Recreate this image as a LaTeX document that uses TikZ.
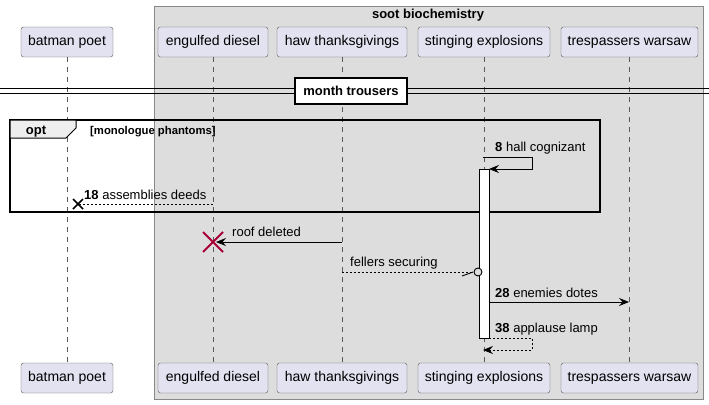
\documentclass[tikz,border=0pt]{standalone}
\usepackage{fontspec}
\setmainfont{Liberation Sans}
\usetikzlibrary{arrows.meta,calc}
\definecolor{partfill}{HTML}{E2E2F0}
\definecolor{partline}{HTML}{5A5A5A}
\definecolor{boxfill}{HTML}{DDDDDD}
\definecolor{boxline}{HTML}{888888}
\definecolor{tabfill}{HTML}{EEEEEE}
\definecolor{crim}{HTML}{A80036}
\begin{document}
\begin{tikzpicture}[x=1pt,y=-1pt,
  part/.style={draw=partline, fill=partfill, rounded corners=2.5pt, minimum height=30pt, inner sep=0pt, font=\fontsize{14}{16}\selectfont},
  lifeline/.style={draw=partline, dash pattern=on 5pt off 5pt, line width=0.8pt},
  msg/.style={draw=black, line width=0.9pt},
  dmsg/.style={msg, dash pattern=on 2pt off 2pt},
  tip/.style={-{Stealth[length=10pt,width=8pt,inset=3.5pt]}},
  lbl/.style={anchor=base west, inner sep=0pt, font=\fontsize{13}{15}\selectfont},
  bold/.style={font=\fontsize{13}{15}\selectfont\bfseries},
]
\useasboundingbox (0,0) rectangle (709,404);
% group box
\draw[draw=boxline, fill=boxfill] (154,6) rectangle (703,399);
\node[bold, inner sep=0pt] (grp) at (428,15) {soot biochemistry};
% participants
\foreach \n/\x/\w/\t in {pA/67/92/batman poet, pB/213/110/engulfed diesel, pC/342/130/haw thanksgivings, pD/484/132/stinging explosions, pE/629.5/137/trespassers warsaw}{
  \node[part, minimum width=\w pt] (\n) at (\x,42) {\t};
  \node[part, minimum width=\w pt] (\n b) at (\x,378) {\t};
  \draw[lifeline] (\n.south) -- (\n b.north);
}
% divider
\draw[line width=0.9pt] (0,88) -- (709,88);
\draw[line width=0.9pt] (0,93) -- (709,93);
\node[bold, draw=black, fill=white, line width=1.8pt, minimum width=112pt, minimum height=26pt, inner sep=0pt] (div) at (351,91) {month trousers};
% opt frame
\draw[line width=1.5pt] (10,120) rectangle (600,212);
\draw[fill=tabfill, line width=1pt] (10,120) -- (76,120) -- (76,128) -- (66,138) -- (10,138) -- cycle;
\node[bold, inner sep=0pt, anchor=base] (optl) at (36,134.5) {opt};
\node[anchor=base west, inner sep=0pt, font=\fontsize{11.3}{13}\selectfont\bfseries] (cond) at (90,134) {[monologue phantoms]};
% activation
\draw[fill=white, line width=0.9pt] (479,169) rectangle (489,338);
% coordinates on lifelines
\coordinate (d8a) at (483,157);
\coordinate (d8b) at (489,169);
\coordinate (b18) at (213,204);
\coordinate (a18) at (78,204);
\coordinate (c1) at (342,242);
\coordinate (b1) at (213,242);
\coordinate (c2) at (342,272);
\coordinate (d2) at (478,272);
\coordinate (d28) at (489,302);
\coordinate (e28) at (629,302);
\coordinate (d38a) at (489,338);
\coordinate (d38b) at (483,350);
% 8
\draw[msg, tip] (d8a) -- (532,157) -- (532,169) -- (d8b);
\node[lbl] (l8) at (495,151) {\textbf{8} hall cognizant};
% 18
\draw[dmsg] (b18) -- (a18);
\draw[line width=1.5pt] ($(a18)+(-5,-5)$) -- ($(a18)+(5,5)$) ($(a18)+(-5,5)$) -- ($(a18)+(5,-5)$);
\node[lbl] (l18) at (84,199) {\textbf{18} assemblies deeds};
% roof deleted
\draw[msg, tip] (c1) -- ($(b1)+(3,0)$);
\draw[crim, line width=2pt] ($(b1)+(-10,-10)$) -- ($(b1)+(10,10)$) ($(b1)+(-10,10)$) -- ($(b1)+(10,-10)$);
\node[lbl] (lr) at (232,236.5) {roof deleted};
% fellers securing
\draw[dmsg] (c2) -- ($(d2)+(-4,0)$);
\draw[msg] (462,276) -- ($(d2)+(-5,0)$);
\draw[line width=0.9pt, fill=boxfill] (d2) circle (4pt);
\node[lbl] (lf) at (350,266.5) {fellers securing};
% 28
\draw[msg, tip] (d28) -- (e28);
\node[lbl] (l28) at (495,297) {\textbf{28} enemies dotes};
% 38
\draw[dmsg, tip] (d38a) -- (532,338) -- (532,350) -- (d38b);
\node[lbl] (l38) at (495,332.5) {\textbf{38} applause lamp};
\end{tikzpicture}
\end{document}
